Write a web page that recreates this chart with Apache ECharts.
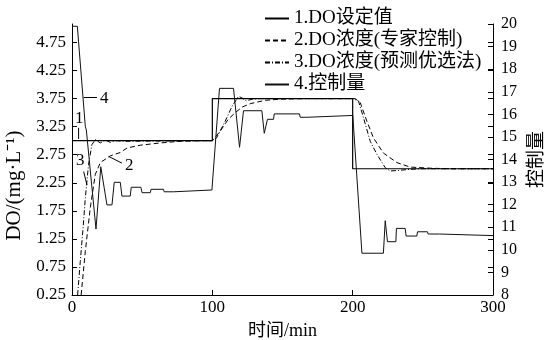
<!DOCTYPE html>
<html><head><meta charset="utf-8">
<script src="https://cdn.jsdelivr.net/npm/echarts@6/dist/echarts.min.js"></script>
<style>html,body{margin:0;padding:0;background:#fff}#c{width:549px;height:340px}</style>
</head><body><div id="c"></div>
<script>
// ---- data (time in min, DO in mg/L, control quantity on right axis) ----
const seriesNames = ['1.DO设定值', '2.DO浓度(专家控制)', '3.DO浓度(预测优选法)', '4.控制量'];
const setpointDO = [[0,3.0],[100,3.0],[100,3.75],[200,3.75],[200,2.5],[300,2.5]];
const expertDO = [[6.5,0.25],[9.5,1.03],[13,1.80],[16.6,2.40],[20.2,2.61],[27.3,2.73],[34.4,2.79],[39.2,2.87],[48.6,2.92],[62.9,2.96],[77,2.99],[90,3.0],[100,3.0],
  [101.4,3.0],[105.6,3.17],[111.3,3.38],[116.3,3.50],[121.3,3.60],[127,3.66],[137.7,3.72],[148.4,3.74],[165,3.75],[200,3.75],
  [201.8,3.75],[205.4,3.68],[210.1,3.35],[214.8,3.05],[221.9,2.78],[231.5,2.61],[241,2.53],[255.2,2.51],[269.4,2.5],[300,2.5]];
const predictDO = [[4,0.25],[5.9,0.85],[8,1.48],[9.5,1.98],[11.8,2.58],[14.2,2.93],[16.6,3.02],[20.2,2.96],[23.7,3.01],[27.3,2.97],[30.8,3.0],[38,2.99],[100,3.0],
  [103,3.05],[109.2,3.35],[114.2,3.62],[118.7,3.79],[121.3,3.76],[124.1,3.71],[128.4,3.74],[134.1,3.75],[200,3.75],
  [204.1,3.71],[207.7,3.41],[212.5,2.99],[217.2,2.76],[223.2,2.52],[226.7,2.46],[232.4,2.47],[241,2.49],[250,2.5],[300,2.5]];
const controlQty = [[0,19.9],[3.8,19.9],[9.5,15.45],[10.2,15.31],[17.1,10.92],[20.5,13.68],[24.9,11.99],[28.5,11.99],[30.1,12.99],[34.4,12.99],[35.6,12.38],[41.5,12.38],[42.2,12.77],[49.1,12.77],[49.9,12.53],[55.8,12.53],[56.3,12.68],[65.2,12.68],[65.7,12.57],[72.4,12.57],[72.9,12.65],[99.7,12.65],
  [100.4,12.73],[105.1,17.15],[115.1,17.15],[119.4,14.54],[122.2,16.16],[135.3,16.16],[137,15.16],[139.3,15.78],[143.6,15.78],[144.1,16.02],[162.1,16.02],[162.6,15.87],[167.4,15.87],[167.8,15.95],[200.1,15.95],
  [206.6,9.85],[221.9,9.85],[223.2,11.29],[224.8,10.36],[230.8,10.36],[231.2,10.95],[237.4,10.95],[238.1,10.61],[245.7,10.61],[246.2,10.8],[253.3,10.8],[253.8,10.7],[261.8,10.7],[262.3,10.63],[300,10.63]];
// curve labels (text, label position [t, DO], leader from, leader to)
const curveLabels = [
  {text:'1', at:[5.2,3.40], from:[4.7,3.23], to:[4.7,3.03]},
  {text:'2', at:[40.8,2.55], from:[35.6,2.60], to:[26.1,2.72]},
  {text:'3', at:[5.9,2.64], from:[8.3,2.45], to:[10.7,2.21]},
  {text:'4', at:[23,3.76], from:[17.8,3.77], to:[8.3,3.77]}
];

const FONT = "'Liberation Serif','Times New Roman','Noto Sans CJK SC',serif";
const chart = echarts.init(document.getElementById('c'), null, {renderer:'canvas'});
const axisLine = {show:true, lineStyle:{color:'#000', width:1}};
const option = {
  animation:false,
  backgroundColor:'#fff',
  grid:{left:72, right:56, top:24, bottom:45, containLabel:false, outerBoundsMode:'none'},
  legend:{
    orient:'vertical', left:259, top:4, itemWidth:24, itemHeight:2, itemGap:3,
    itemStyle:{opacity:0},
    textStyle:{fontFamily:FONT, fontSize:19, color:'#000'},
    data:seriesNames
  },
  xAxis:{
    type:'value', min:0, max:300, interval:100,
    name:'时间/min', nameLocation:'middle', nameGap:27,
    nameTextStyle:{fontFamily:FONT, fontSize:18, color:'#000'},
    axisLine:axisLine, axisTick:{show:true, inside:true, length:5, lineStyle:{color:'#000'}},
    axisLabel:{fontFamily:FONT, fontSize:17, color:'#000', margin:4},
    splitLine:{show:false}
  },
  yAxis:[
    {type:'value', position:'left', min:0.25, max:5.08, interval:0.5,
     name:'DO/(mg·L⁻¹)', nameLocation:'middle', nameGap:40, nameRotate:90,
     nameTextStyle:{fontFamily:FONT, fontSize:21, color:'#000', padding:[0,52,0,0]},
     axisLine:axisLine, axisTick:{show:true, inside:true, length:5, lineStyle:{color:'#000'}},
     axisLabel:{fontFamily:FONT, fontSize:17, color:'#000', margin:6, showMaxLabel:false,
       formatter:v=>v.toFixed(2)},
     splitLine:{show:false}},
    {type:'value', position:'right', min:8, max:20, interval:1,
     name:'控制量', nameLocation:'middle', nameGap:30, nameRotate:90,
     nameTextStyle:{fontFamily:FONT, fontSize:19, color:'#000'},
     axisLine:axisLine, axisTick:{show:true, inside:true, length:5, lineStyle:{color:'#000'}},
     axisLabel:{fontFamily:FONT, fontSize:16, color:'#000', margin:8},
     splitLine:{show:false}},
    {type:'value', position:'right', min:0.25, max:5.08, interval:0.5,
     axisLine:{show:false}, axisTick:{show:true, inside:true, length:5, lineStyle:{color:'#000'}},
     axisLabel:{show:false}, splitLine:{show:false}}
  ],
  series:[
    {name:seriesNames[0], type:'line', yAxisIndex:0, data:setpointDO, symbol:'none',
     lineStyle:{color:'#000', width:1.2, type:'solid'}, itemStyle:{color:'#000'}},
    {name:seriesNames[1], type:'line', yAxisIndex:0, data:expertDO, symbol:'none',
     lineStyle:{color:'#000', width:1, type:[5,3]}, itemStyle:{color:'#000'}},
    {name:seriesNames[2], type:'line', yAxisIndex:0, data:predictDO, symbol:'none',
     lineStyle:{color:'#000', width:1, type:[5,2,1,2]}, itemStyle:{color:'#000'}},
    {name:seriesNames[3], type:'line', yAxisIndex:1, data:controlQty, symbol:'none',
     lineStyle:{color:'#111', width:1, type:'solid'}, itemStyle:{color:'#111'}}
  ]
};
chart.setOption(option);
const toPx = p => chart.convertToPixel({xAxisIndex:0, yAxisIndex:0}, p);
const graphics = [];
curveLabels.forEach(c => {
  const a = toPx(c.at), f = toPx(c.from), t = toPx(c.to);
  graphics.push({type:'text', x:a[0], y:a[1], style:{text:c.text, font:"17px "+FONT, fill:'#000', align:'center', verticalAlign:'middle'}});
  graphics.push({type:'line', shape:{x1:f[0], y1:f[1], x2:t[0], y2:t[1]}, style:{stroke:'#000', lineWidth:1}});
});
chart.setOption({graphic:graphics});
</script></body></html>
